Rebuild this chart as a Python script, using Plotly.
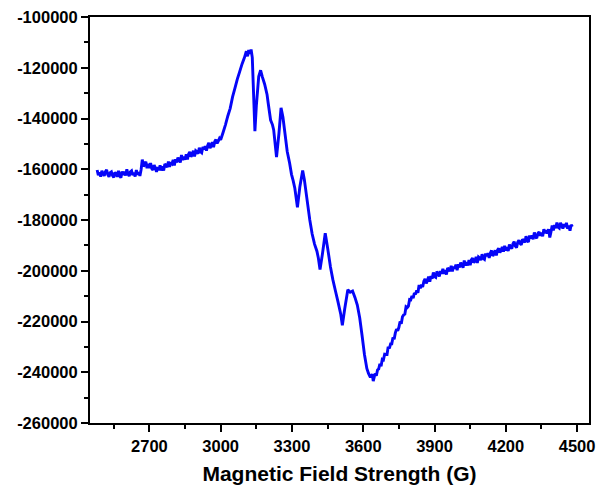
import plotly.graph_objects as go

# EPR spectrum: magnetic field (G) vs signal intensity (a.u.)

# low-field baseline, 5 G steps
field_low = [
    2480, 2485, 2490, 2495, 2500, 2505, 2510, 2515, 2520, 2525,
    2530, 2535, 2540, 2545, 2550, 2555, 2560, 2565, 2570, 2575,
    2580, 2585, 2590, 2595, 2600, 2605, 2610, 2615, 2620, 2625,
    2630, 2635, 2640, 2645, 2650, 2655, 2660, 2665, 2670, 2675,
    2680, 2685, 2690, 2695, 2700, 2705, 2710, 2715, 2720, 2725,
    2730, 2735, 2740, 2745, 2750, 2755, 2760, 2765, 2770, 2775,
    2780, 2785, 2790, 2795, 2800, 2805, 2810, 2815, 2820, 2825,
    2830, 2835, 2840, 2845, 2850, 2855, 2860, 2865, 2870, 2875,
    2880, 2885, 2890, 2895, 2900, 2905, 2910, 2915, 2920, 2925,
    2930, 2935, 2940, 2945, 2950, 2955, 2960, 2965, 2970, 2975,
    2980, 2985, 2990, 2995, 3000,
]
signal_low = [
    -160300, -162300, -161200, -162900, -160600, -161700, -162600, -160900, -160200, -162200,
    -163000, -161300, -161000, -162500, -163200, -161200, -161900, -162900, -160600, -162600,
    -163300, -160900, -162300, -161000, -162500, -160000, -161900, -162700, -161000, -160600,
    -162300, -161300, -162900, -160300, -162100, -161200, -162600, -160200, -156200, -158900,
    -158000, -157000, -159600, -157900, -159500, -157600, -159700, -160300, -158400, -159500,
    -161000, -159200, -160400, -158500, -160500, -158900, -160500, -157900, -158400, -159200,
    -157000, -159100, -157300, -157800, -156300, -158500, -156100, -157300, -155400, -156400,
    -157300, -154400, -156300, -155100, -156200, -154100, -156100, -154000, -153200, -155000,
    -154400, -152700, -155000, -152700, -153100, -153900, -151500, -153100, -153500, -151200,
    -152200, -150900, -152700, -150700, -149600, -151700, -150800, -149300, -151300, -149100,
    -148300, -149800, -148900, -147800, -148400,
]

# hyperfine region and main absorption derivative
field_mid = [
    3010, 3020, 3030, 3040, 3050, 3060, 3070, 3080, 3090, 3100,
    3108, 3113, 3118, 3124, 3128, 3133, 3144, 3150, 3160, 3168,
    3175, 3185, 3195, 3200, 3210, 3218, 3223, 3235, 3245, 3254,
    3262, 3270, 3280, 3290, 3298, 3305, 3312, 3323, 3333, 3345,
    3352, 3362, 3375, 3385, 3395, 3405, 3411, 3418, 3428, 3440,
    3450, 3462, 3472, 3483, 3493, 3505, 3512, 3522, 3535, 3545,
    3555, 3565, 3575, 3585, 3595, 3605, 3615, 3622, 3630, 3638,
    3642, 3650, 3655, 3660, 3665, 3670, 3675, 3680, 3685, 3690,
    3695, 3700, 3705, 3710, 3715, 3720, 3725, 3730, 3735, 3740,
    3745, 3750, 3755, 3760, 3765, 3770, 3775, 3780, 3785, 3790,
    3795, 3800, 3805, 3810, 3815,
]
signal_mid = [
    -145500, -142500, -139000, -136000, -131500, -128000, -124500, -121500, -118500, -116000,
    -113500, -115500, -113000, -114500, -112800, -116000, -145000, -135000, -123500, -121000,
    -123500, -126500, -130500, -134000, -140600, -142500, -144500, -155200, -146000, -135800,
    -139500, -145500, -153000, -157500, -162000, -164500, -167500, -175000, -167000, -160500,
    -164000, -171000, -180000, -185500, -189500, -192300, -195000, -199500, -193500, -185200,
    -191000, -198500, -203500, -208000, -212000, -217000, -221500, -215000, -207500, -208500,
    -208000, -210500, -213500, -218500, -225500, -233000, -238500, -240500, -242000, -240800,
    -243500, -240500, -241400, -239100, -238700, -236700, -237600, -234900, -235100, -232900,
    -233000, -233000, -229900, -230600, -228800, -228800, -226300, -227000, -224500, -223000,
    -223600, -222300, -220000, -220900, -218100, -217400, -217100, -214200, -214500, -213900,
    -211300, -211400, -209900, -210800, -208800,
]

# high-field baseline, 5 G steps
field_high = [
    3820, 3825, 3830, 3835, 3840, 3845, 3850, 3855, 3860, 3865,
    3870, 3875, 3880, 3885, 3890, 3895, 3900, 3905, 3910, 3915,
    3920, 3925, 3930, 3935, 3940, 3945, 3950, 3955, 3960, 3965,
    3970, 3975, 3980, 3985, 3990, 3995, 4000, 4005, 4010, 4015,
    4020, 4025, 4030, 4035, 4040, 4045, 4050, 4055, 4060, 4065,
    4070, 4075, 4080, 4085, 4090, 4095, 4100, 4105, 4110, 4115,
    4120, 4125, 4130, 4135, 4140, 4145, 4150, 4155, 4160, 4165,
    4170, 4175, 4180, 4185, 4190, 4195, 4200, 4205, 4210, 4215,
    4220, 4225, 4230, 4235, 4240, 4245, 4250, 4255, 4260, 4265,
    4270, 4275, 4280, 4285, 4290, 4295, 4300, 4305, 4310, 4315,
    4320, 4325, 4330, 4335, 4340, 4345, 4350, 4355, 4360, 4365,
    4370, 4375, 4380, 4385, 4390, 4395, 4400, 4405, 4410, 4415,
    4420, 4425, 4430, 4435, 4440, 4445, 4450, 4455, 4460, 4465,
    4470, 4475, 4480,
]
signal_high = [
    -209300, -207700, -208700, -205600, -206900, -205500, -206400, -204100, -203200, -205000,
    -203900, -202300, -204300, -202100, -203100, -200700, -202300, -202600, -200300, -201100,
    -202200, -200100, -201100, -199200, -201200, -199800, -201500, -198900, -199400, -200200,
    -198100, -200200, -198400, -199100, -197600, -199800, -197500, -198700, -196800, -197800,
    -198800, -196000, -197900, -196700, -197900, -195800, -197800, -195700, -195000, -196800,
    -196200, -194500, -196900, -194600, -195000, -195800, -193500, -195100, -195500, -193200,
    -194300, -193100, -194900, -193000, -192000, -194200, -193300, -191900, -194000, -191900,
    -191200, -192800, -192100, -190600, -192500, -190200, -192000, -190700, -192200, -189700,
    -190600, -191300, -189400, -188500, -190300, -190900, -188800, -188000, -189300, -189800,
    -187600, -188100, -188900, -186400, -188200, -188700, -186100, -187300, -186100, -187600,
    -184900, -186600, -187200, -185300, -184700, -186200, -185000, -186400, -183600, -185200,
    -184100, -185300, -183600, -186900, -184700, -182200, -184100, -182000, -183200, -181000,
    -182800, -183200, -181100, -182100, -183400, -181600, -182700, -181100, -183400, -182200,
    -184200, -181900, -182700,
]

x_ticks = [2700, 3000, 3300, 3600, 3900, 4200, 4500]
x_minor = [2550, 2850, 3150, 3450, 3750, 4050, 4350]
y_ticks = [-260000, -240000, -220000, -200000, -180000, -160000, -140000, -120000, -100000]
y_minor = [-250000, -230000, -210000, -190000, -170000, -150000, -130000, -110000]

field = field_low + field_mid + field_high
intensity = signal_low + signal_mid + signal_high

font_family = "Arial, Liberation Sans, sans-serif"

fig = go.Figure(
    go.Scatter(
        x=field,
        y=intensity,
        mode="lines",
        line=dict(color="#0505f8", width=2.9, simplify=False),
        showlegend=False,
    )
)

axis_common = dict(
    showgrid=False,
    zeroline=False,
    showline=True,
    linecolor="black",
    linewidth=2,
    mirror=True,
    ticks="outside",
    ticklen=7,
    tickwidth=2,
    tickcolor="black",
    tickfont=dict(family=font_family, size=16.5, color="black", weight="bold"),
)

fig.update_xaxes(
    range=[2450, 4550],
    tickmode="array",
    tickvals=x_ticks,
    ticktext=[str(v) for v in x_ticks],
    minor=dict(tickvals=x_minor, ticks="outside", ticklen=4, tickwidth=2, tickcolor="black"),
    title=dict(
        text="Magnetic Field Strength (G)",
        font=dict(family=font_family, size=21, color="black", weight="bold"),
        standoff=13,
    ),
    **axis_common,
)

fig.update_yaxes(
    range=[-260000, -100000],
    tickmode="array",
    tickvals=y_ticks,
    ticktext=[str(v) for v in y_ticks],
    minor=dict(tickvals=y_minor, ticks="outside", ticklen=4, tickwidth=2, tickcolor="black"),
    **axis_common,
)

fig.update_layout(
    width=603,
    height=491,
    margin=dict(l=90, r=8, t=17, b=68),
    paper_bgcolor="white",
    plot_bgcolor="white",
)

fig.write_html("out.html")
